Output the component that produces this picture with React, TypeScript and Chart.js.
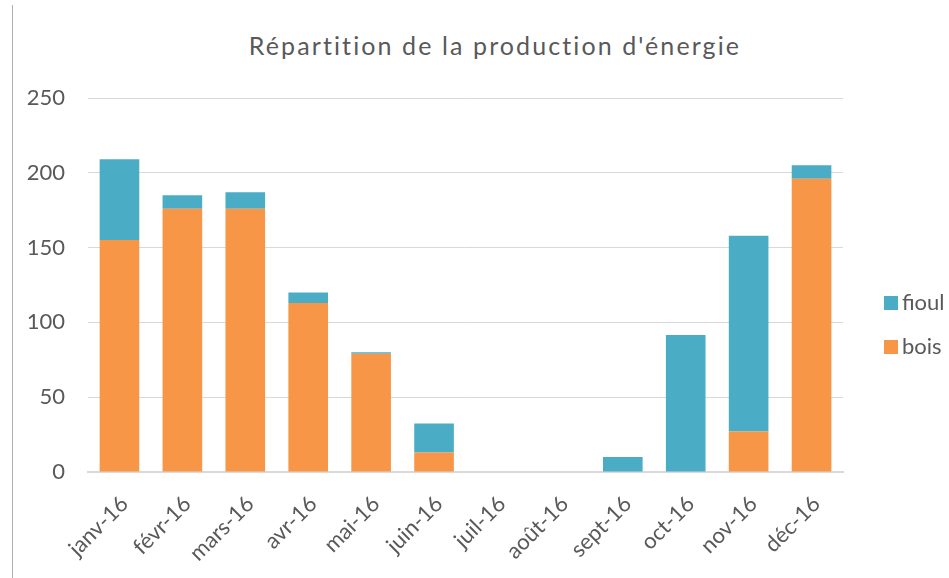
import React, { useEffect, useRef } from "react";
import { Chart, registerables } from "chart.js";

Chart.register(...registerables);

const categories = ["janv-16", "févr-16", "mars-16", "avr-16", "mai-16", "juin-16", "juil-16", "août-16", "sept-16", "oct-16", "nov-16", "déc-16"];
const boisValues = [155, 176, 176, 113, 79, 13, 0, 0, 0, 0, 27, 196];
const fioulValues = [54, 9, 11, 7, 1, 19.5, 0, 0, 10, 91.5, 131, 9];
const yTickValues = [0, 50, 100, 150, 200, 250];
const seriesNames = ["bois", "fioul"];
const seriesColors = ["#F79646", "#4BACC6"];
const titleText = "Répartition de la production d'énergie";

const FONT = "Lato, 'Open Sans', sans-serif";
const TEXT = "#595959";

export default function App() {
  const canvasRef = useRef<HTMLCanvasElement | null>(null);

  useEffect(() => {
    const canvas = canvasRef.current;
    if (!canvas) return;
    const chart = new Chart(canvas, {
      type: "bar",
      data: {
        labels: categories,
        datasets: [
          { label: seriesNames[0], data: boisValues, backgroundColor: seriesColors[0], borderWidth: 0 },
          { label: seriesNames[1], data: fioulValues, backgroundColor: seriesColors[1], borderWidth: 0 },
        ],
      },
      options: {
        responsive: false,
        animation: false,
        events: [],
        layout: { padding: { left: 10, top: 98, right: 106, bottom: 0 } },
        datasets: { bar: { barPercentage: 0.63, categoryPercentage: 1 } },
        plugins: { legend: { display: false }, title: { display: false }, tooltip: { enabled: false } },
        scales: {
          x: {
            stacked: true,
            grid: { display: false, drawTicks: false },
            border: { display: true, color: "#d9d9d9", width: 2 },
            ticks: {
              color: TEXT,
              font: { family: FONT, size: 22 },
              maxRotation: 45,
              minRotation: 45,
              padding: 19,
              labelOffset: 5,
              autoSkip: false,
            },
            afterFit: (axis: any) => {
              axis.height = 106;
            },
          },
          y: {
            stacked: true,
            min: yTickValues[0],
            max: yTickValues[yTickValues.length - 1],
            grid: { color: "#d9d9d9", lineWidth: 1, drawTicks: false },
            border: { display: false },
            ticks: {
              stepSize: yTickValues[1] - yTickValues[0],
              color: TEXT,
              font: { family: FONT, size: 22 },
              padding: 23,
            },
            afterFit: (axis: any) => {
              axis.width = 78;
            },
          },
        },
      },
    });
    return () => chart.destroy();
  }, []);

  const legendItems = [
    { name: seriesNames[1], color: seriesColors[1], top: 296 },
    { name: seriesNames[0], color: seriesColors[0], top: 340 },
  ];

  return (
    <div style={{ position: "fixed", left: 0, top: 0, width: 949, height: 578, overflow: "hidden", background: "#fff" }}>
      <div style={{ position: "absolute", left: 12, top: 5, width: 1, height: 573, background: "#b0b0b0" }} />
      <div
        style={{
          position: "absolute",
          left: 0,
          width: 990,
          top: 30,
          textAlign: "center",
          fontFamily: FONT,
          fontSize: 25,
          letterSpacing: "2.1px",
          lineHeight: "normal",
          color: TEXT,
          whiteSpace: "nowrap",
        }}
      >
        {titleText}
      </div>
      <canvas ref={canvasRef} width={949} height={578} style={{ position: "absolute", left: 0, top: 0 }} />
      {legendItems.map((it) => (
        <React.Fragment key={it.name}>
          <div style={{ position: "absolute", left: 884, top: it.top, width: 14, height: 14, background: it.color }} />
          <div
            style={{
              position: "absolute",
              left: 902,
              top: it.top - 8,
              fontFamily: FONT,
              fontSize: 22,
              lineHeight: "normal",
              color: TEXT,
              whiteSpace: "nowrap",
            }}
          >
            {it.name}
          </div>
        </React.Fragment>
      ))}
    </div>
  );
}
